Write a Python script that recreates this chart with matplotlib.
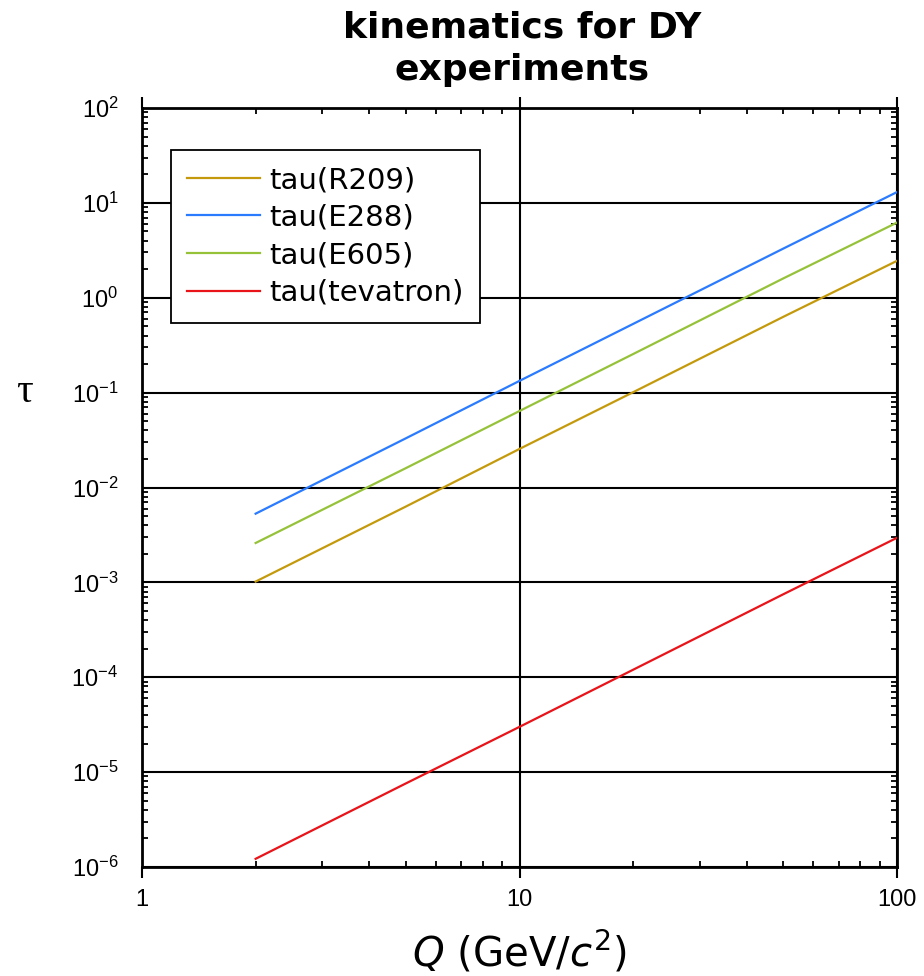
import matplotlib
matplotlib.use("Agg")
import matplotlib.pyplot as plt
import matplotlib.ticker as ticker
import numpy as np

# ---- data ----
Q = [2, 5, 10, 20, 50, 100]
tau_R209 = [1.02e-3, 6.3e-3, 2.55e-2, 0.101, 0.63, 2.45]
tau_E288 = [5.3e-3, 3.3e-2, 0.133, 0.53, 3.3, 13.0]
tau_E605 = [2.6e-3, 1.6e-2, 6.4e-2, 0.255, 1.6, 6.2]
tau_tev = [1.22e-6, 7.6e-6, 3.0e-5, 1.2e-4, 7.5e-4, 2.95e-3]

labels = ['tau(R209)', 'tau(E288)', 'tau(E605)', 'tau(tevatron)']
colors = ['#c49a0c', '#2b7bff', '#96c23a', '#e8141a']

plt.rcParams['mathtext.fontset'] = 'custom'
plt.rcParams['mathtext.rm'] = 'DejaVu Sans'
plt.rcParams['mathtext.it'] = 'DejaVu Sans:italic'

# ---- figure ----
fig = plt.figure(figsize=(9.24, 9.76), dpi=100)
ax = fig.add_axes([142/924, 1 - 867/976, 755/924, 759/976])

for ys, lab, c in zip([tau_R209, tau_E288, tau_E605, tau_tev], labels, colors):
    ax.plot(Q, ys, color=c, lw=1.6, label=lab, zorder=3)

ax.set_xscale('log')
ax.set_yscale('log')
ax.set_xlim(1, 100)
ax.set_ylim(1e-6, 1e2)

ax.xaxis.set_major_locator(ticker.LogLocator(base=10, numticks=10))
ax.yaxis.set_major_locator(ticker.LogLocator(base=10, numticks=20))
ax.xaxis.set_minor_locator(ticker.LogLocator(base=10, subs=np.arange(2, 10), numticks=100))
ax.yaxis.set_minor_locator(ticker.LogLocator(base=10, subs=np.arange(2, 10), numticks=100))
ax.xaxis.set_minor_formatter(ticker.NullFormatter())
ax.yaxis.set_minor_formatter(ticker.NullFormatter())
ax.xaxis.set_major_formatter(ticker.FuncFormatter(lambda v, p: '%g' % v))
ax.yaxis.set_major_formatter(ticker.FuncFormatter(
    lambda v, p: r'$\mathregular{10^{%d}}$' % round(np.log10(v))))

# 目盛
ax.tick_params(axis='x', which='major', direction='out', length=8, width=1.5,
               top=True, bottom=True, pad=8)
ax.tick_params(axis='y', which='major', length=0, pad=17, left=True, right=True)
ax.tick_params(which='minor', direction='in', length=4, width=1.3,
               top=True, bottom=True, left=True, right=True)
for lab in ax.get_xticklabels() + ax.get_yticklabels():
    lab.set_fontfamily('Liberation Sans')
    lab.set_fontsize(17)

ax.grid(which='major', color='black', lw=1.5, zorder=1)
ax.set_axisbelow(True)
for s in ax.spines.values():
    s.set_linewidth(2)

# ラベル
ax.set_xlabel(r'$Q$ (GeV/$c^2$)', fontsize=29, family='DejaVu Sans', labelpad=13)
ax.set_ylabel('τ', fontsize=30, family='Liberation Serif', rotation=0,
              va='center', ha='center')
ax.yaxis.set_label_coords((24 - 142) / 755, (867 - 392) / 759)

fig.text(522/924, 1 - 11/976, 'kinematics for DY\nexperiments', ha='center', va='top',
         fontsize=26, fontweight='bold', family='DejaVu Sans', linespacing=1.3)

leg = ax.legend(loc='upper left', bbox_to_anchor=(171/924, 1 - 150/976),
                bbox_transform=fig.transFigure, fontsize=21, frameon=True,
                fancybox=False, edgecolor='black', framealpha=1,
                handlelength=2.5, handletextpad=0.32, borderpad=0.55,
                labelspacing=0.33, borderaxespad=0)
leg.get_frame().set_linewidth(1.3)
for t in leg.get_texts():
    t.set_fontfamily('DejaVu Sans')

fig.savefig('out.png', dpi=100)
